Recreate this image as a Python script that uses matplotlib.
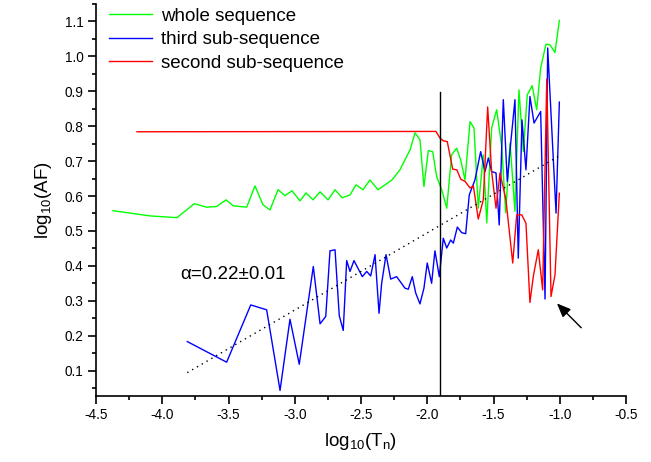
import matplotlib
matplotlib.use("Agg")
import matplotlib.pyplot as plt
from matplotlib.ticker import MultipleLocator, FormatStrFormatter

plt.rcParams['font.family'] = ['Liberation Sans', 'DejaVu Sans']
plt.rcParams['mathtext.fontset'] = 'custom'
plt.rcParams['mathtext.rm'] = 'Liberation Sans'
plt.rcParams['mathtext.default'] = 'regular'

# whole sequence (green)
whole_x = [-4.372, -4.092, -3.889, -3.758, -3.665, -3.589, -3.519, -3.464, -3.363, -3.300,
           -3.240, -3.187, -3.126, -3.074, -3.021, -2.960, -2.915, -2.862, -2.809, -2.749,
           -2.696, -2.643, -2.583, -2.538, -2.485, -2.432, -2.372, -2.319, -2.266, -2.206,
           -2.168, -2.130, -2.092, -2.055, -2.025, -1.992, -1.959, -1.929, -1.891, -1.853,
           -1.816, -1.778, -1.748, -1.715, -1.677, -1.647, -1.615, -1.577, -1.551, -1.514,
           -1.476, -1.438, -1.408, -1.375, -1.338, -1.308, -1.275, -1.245, -1.208, -1.174,
           -1.144, -1.104, -1.074, -1.036, -1.003]
whole_y = [0.558, 0.543, 0.538, 0.578, 0.568, 0.570, 0.589, 0.572, 0.568, 0.629,
           0.575, 0.560, 0.618, 0.601, 0.615, 0.586, 0.609, 0.589, 0.612, 0.589,
           0.618, 0.595, 0.603, 0.632, 0.618, 0.646, 0.618, 0.632, 0.646, 0.675,
           0.704, 0.732, 0.781, 0.761, 0.627, 0.730, 0.727, 0.656, 0.618, 0.565,
           0.718, 0.737, 0.704, 0.646, 0.813, 0.795, 0.565, 0.718, 0.523, 0.795,
           0.847, 0.742, 0.552, 0.752, 0.556, 0.904, 0.728, 0.890, 0.916, 0.847,
           0.967, 1.035, 1.033, 1.011, 1.103]

# third sub-sequence (blue)
third_x = [-3.811, -3.514, -3.332, -3.212, -3.111, -3.036, -2.966, -2.860, -2.809, -2.766,
           -2.734, -2.696, -2.664, -2.634, -2.608, -2.583, -2.553, -2.490, -2.457, -2.427,
           -2.394, -2.364, -2.344, -2.311, -2.276, -2.231, -2.168, -2.143, -2.113, -2.087,
           -2.055, -2.025, -2.000, -1.967, -1.942, -1.909, -1.879, -1.853, -1.823, -1.803,
           -1.773, -1.740, -1.710, -1.683, -1.640, -1.597, -1.564, -1.539, -1.514, -1.481,
           -1.457, -1.426, -1.396, -1.370, -1.338, -1.313, -1.285, -1.255, -1.225, -1.194,
           -1.144, -1.111, -1.091, -1.028, -1.003]
third_y = [0.183, 0.124, 0.288, 0.274, 0.043, 0.247, 0.118, 0.398, 0.234, 0.255,
           0.443, 0.446, 0.257, 0.215, 0.415, 0.384, 0.415, 0.369, 0.384, 0.371,
           0.432, 0.264, 0.350, 0.432, 0.362, 0.369, 0.336, 0.333, 0.369, 0.322,
           0.291, 0.336, 0.408, 0.350, 0.443, 0.369, 0.479, 0.451, 0.474, 0.465,
           0.511, 0.495, 0.492, 0.603, 0.646, 0.727, 0.670, 0.709, 0.670, 0.666,
           0.517, 0.876, 0.642, 0.752, 0.876, 0.422, 0.818, 0.675, 0.885, 0.809,
           0.842, 0.305, 1.024, 0.551, 0.869]

# second sub-sequence (red)
second_x = [-4.191, -1.934, -1.904, -1.879, -1.849, -1.808, -1.777, -1.747, -1.715, -1.677,
            -1.652, -1.615, -1.577, -1.544, -1.514, -1.481, -1.451, -1.406, -1.355, -1.325,
            -1.287, -1.255, -1.225, -1.200, -1.162, -1.129, -1.098, -1.066, -1.036, -1.003]
second_y = [0.784, 0.785, 0.766, 0.758, 0.756, 0.677, 0.675, 0.648, 0.642, 0.623,
            0.629, 0.534, 0.589, 0.855, 0.670, 0.565, 0.666, 0.589, 0.408, 0.546,
            0.546, 0.522, 0.295, 0.369, 0.446, 0.331, 0.935, 0.312, 0.374, 0.608]

# fit line and markers
fit_x = [-3.811, -1.003]
fit_y = [0.094, 0.715]
vline_x = -1.907
vline_top = 0.897
arrow_head = (-1.036, 0.298)
arrow_tail = (-0.823, 0.217)
fit_label = "α=0.22±0.01"

fig = plt.figure(figsize=(6.51, 4.62), dpi=100)
ax = fig.add_axes([96/651, 1-395.7/462, 530/651, 391.7/462])

ax.plot(whole_x, whole_y, color='#00ff00', lw=1.0, label='whole sequence')
ax.plot(third_x, third_y, color='#0000ff', lw=1.0, label='third sub-sequence')
ax.plot(second_x, second_y, color='#ff0000', lw=1.0, label='second sub-sequence')
ax.plot(fit_x, fit_y, color='black', lw=1.0, linestyle=(0, (1, 3)))
ax.plot([vline_x, vline_x], [0.0, vline_top], color='black', lw=1.0)
ax.annotate('', xy=arrow_head, xytext=arrow_tail,
            arrowprops=dict(arrowstyle='-|>,head_length=0.6,head_width=0.25', color='black',
                            lw=1.0, mutation_scale=14))
ax.text(-3.866, 0.374, fit_label, fontsize=13.5, ha='left', va='center')

ax.set_xlim(-4.5, -0.5)
ax.set_ylim(0.028, 1.15)
ax.xaxis.set_major_locator(MultipleLocator(0.5))
ax.xaxis.set_minor_locator(MultipleLocator(0.25))
ax.yaxis.set_major_locator(MultipleLocator(0.1))
ax.yaxis.set_minor_locator(MultipleLocator(0.05))
ax.xaxis.set_major_formatter(FormatStrFormatter('%.1f'))
ax.yaxis.set_major_formatter(FormatStrFormatter('%.1f'))
for s in ['top', 'right']:
    ax.spines[s].set_visible(False)
for s in ['left', 'bottom']:
    ax.spines[s].set_linewidth(1.2)
ax.tick_params(which='major', direction='out', length=6, width=1.2, labelsize=9.8, pad=3)
ax.tick_params(which='minor', direction='out', length=3, width=1.2)

ax.set_xlabel(r'log$_{10}$(T$_n$)', fontsize=13.5, labelpad=6)
ax.set_ylabel(r'log$_{10}$(AF)', fontsize=13.5, labelpad=8)

ax.legend(loc='upper left', bbox_to_anchor=(0.0245, 0.99), frameon=False, fontsize=13.5,
          handlelength=2.3, handletextpad=0.5, labelspacing=0.33, borderaxespad=0, borderpad=0)

fig.savefig('out.png', dpi=100)
